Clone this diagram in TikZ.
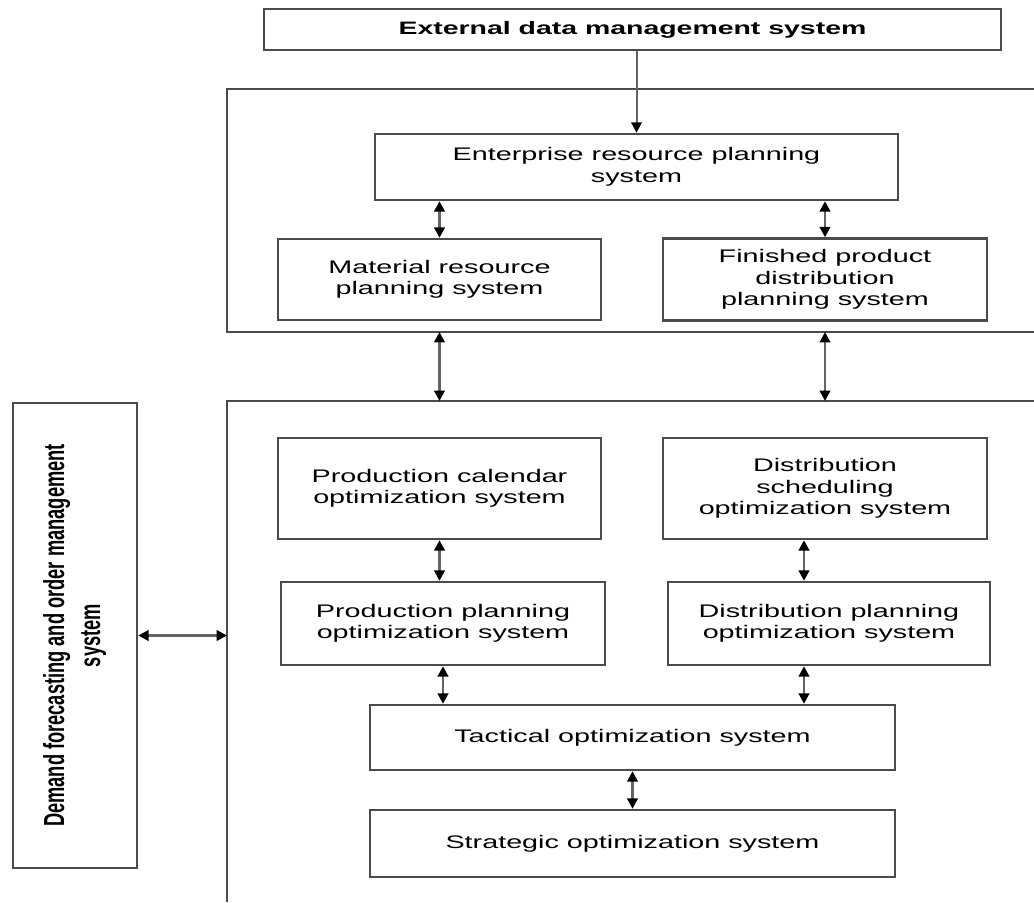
\documentclass[tikz,border=0pt]{standalone}
\usepackage{fontspec}
\setmainfont{Liberation Sans}[FakeStretch=1.58]
\newfontfamily\narrowfont{Liberation Sans}[FakeStretch=0.63]
\usepackage{graphicx}
\usepackage{tikz}
\usetikzlibrary{arrows.meta}
\definecolor{framegray}{RGB}{75,75,75}
\definecolor{shaftgray}{RGB}{100,100,100}
\tikzset{>={Triangle[length=5.2pt,width=5.2pt,color=black]}}
\tikzset{%
    sysbox/.style={draw=framegray, line width=1.2pt, align=center, inner sep=0pt,
        font=\fontsize{9.1pt}{10.75pt}\selectfont},
    frame/.style={draw=framegray, line width=1.2pt},
    link/.style={<->, line width=1.4pt, draw=shaftgray},
    oneway/.style={->, line width=1pt, draw=shaftgray}
}

\begin{document}
\begin{tikzpicture}[x=0.5pt,y=-0.5pt]
    \useasboundingbox (0,0) rectangle (1034,902);
    \node[sysbox, font=\bfseries\fontsize{9pt}{10.75pt}\selectfont, minimum width=368.5pt, minimum height=20.5pt] (ext) at (632.5,29.5) {External data management system};
    \draw[frame] (1034,89) -- (227,89) -- (227,332) -- (1034,332);
    \draw[frame] (1034,401) -- (227,401) -- (227,902);
    \coordinate (upperB) at (227,332);
    \coordinate (lowerT) at (227,401);
    \coordinate (dcol) at (804,0);
    \node[sysbox, minimum width=261.5pt, minimum height=33pt] (erp) at (636.5,167) {Enterprise resource planning\\system};
    \node[sysbox, minimum width=161.5pt, minimum height=40.5pt] (mrp) at (439.5,279.5) {Material resource\\planning system};
    \node[sysbox, minimum width=162pt, minimum height=41pt] (fpd) at (825,279.5) {Finished product\\distribution\\planning system};
    \node[sysbox, minimum width=62pt, minimum height=232.5pt] (demand) at (75,635.5) {\rotatebox{90}{\narrowfont\bfseries\fontsize{14.5pt}{18pt}\selectfont
        \begin{tabular}{@{}c@{}}Demand forecasting and order management\\system\end{tabular}}};
    \node[sysbox, minimum width=161.5pt, minimum height=50.5pt] (pco) at (439.5,488.5) {Production calendar\\optimization system};
    \node[sysbox, minimum width=162pt, minimum height=50.5pt] (dso) at (825,488.5) {Distribution\\scheduling\\optimization system};
    \node[sysbox, minimum width=162pt, minimum height=41.5pt] (ppo) at (443,623.5) {Production planning\\optimization system};
    \node[sysbox, minimum width=161pt, minimum height=41.5pt] (dpo) at (829,623.5) {Distribution planning\\optimization system};
    \node[sysbox, minimum width=262.5pt, minimum height=32.5pt] (tac) at (632.5,737.5) {Tactical optimization system};
    \node[sysbox, minimum width=262.5pt, minimum height=33.5pt] (str) at (632.5,843.5) {Strategic optimization system};
    \draw[oneway] (ext.south -| erp) -- (erp.north);
    \draw[link] (erp.south -| mrp) -- (mrp.north);
    \draw[link] (erp.south -| fpd) -- (fpd.north);
    \draw[link] (upperB -| mrp) -- (lowerT -| mrp);
    \draw[link] (upperB -| fpd) -- (lowerT -| fpd);
    \draw[link] (pco.south) -- (ppo.north -| pco);
    \draw[link] (dso.south -| dcol) -- (dpo.north -| dcol);
    \draw[link] (ppo.south) -- (tac.north -| ppo);
    \draw[link] (dpo.south -| dcol) -- (tac.north -| dcol);
    \draw[link] (tac.south) -- (str.north);
    \draw[link] (demand.east) -- (demand.east -| lowerT);
\end{tikzpicture}
\end{document}
